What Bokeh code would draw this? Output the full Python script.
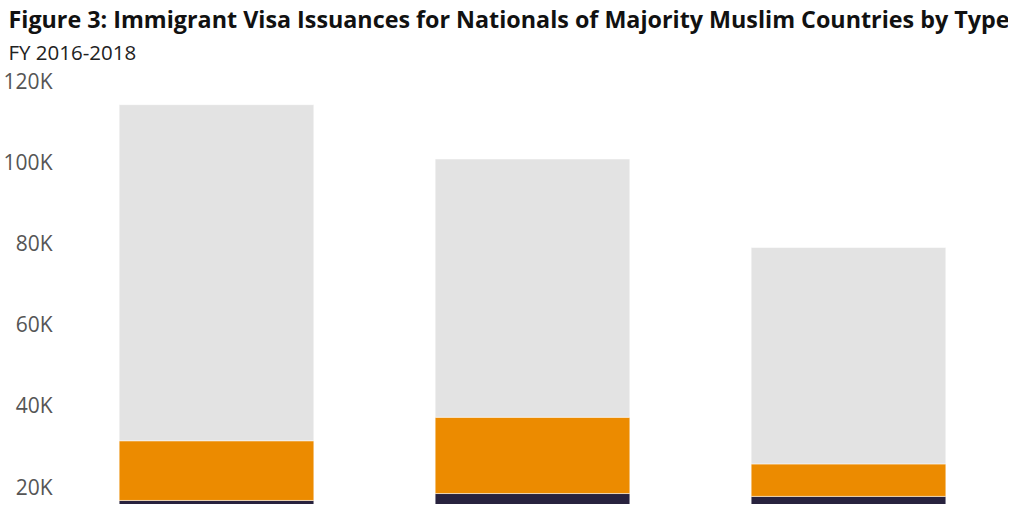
from bokeh.plotting import figure
from bokeh.models import Title, FixedTicker, Range1d, ColumnDataSource
from bokeh.embed import file_html
from bokeh.resources import INLINE

years = ["FY 2016", "FY 2017", "FY 2018"]
series = ["Employment-Based", "Family-Sponsored", "Immediate Relatives"]
employment = [16600, 18300, 17600]
family = [14700, 18800, 8000]
immediate = [82800, 63600, 53300]
colors = ["#28223e", "#ec8b00", "#e3e3e3"]
tick_values = [20000, 40000, 60000, 80000, 100000, 120000]
tick_labels = ["20K", "40K", "60K", "80K", "100K", "120K"]

source = ColumnDataSource(data=dict(year=years, **{
    series[0]: employment, series[1]: family, series[2]: immediate}))

p = figure(x_range=years, width=1008, height=504, output_backend="svg",
           toolbar_location=None, title=None, x_axis_location=None,
           min_border_left=0, min_border_right=2, min_border_top=0, min_border_bottom=0)
p.y_range = Range1d(15600, 123500)
p.x_range.range_padding = 0

p.vbar_stack(series, x="year", width=0.616, color=colors, source=source,
             line_color="white", line_width=0.5)

p.add_layout(Title(text="FY 2016-2018", text_font="Open Sans", text_font_size="20.5px",
                   text_font_style="normal", text_color="#222222", offset=-50,
                   standoff=2), "above")
p.add_layout(Title(text="Figure 3: Immigrant Visa Issuances for Nationals of Majority Muslim Countries by Type",
                   text_font="Open Sans", text_font_size="23.3px", text_font_style="bold",
                   text_color="#111111", offset=-50, standoff=0), "above")

ya = p.yaxis[0]
ya.ticker = FixedTicker(ticks=tick_values)
ya.major_label_overrides = {v: l for v, l in zip(tick_values, tick_labels)}
ya.major_label_text_font = "Open Sans"
ya.major_label_text_font_size = "21px"
ya.major_label_text_color = "#555555"
ya.major_label_text_align = "left"
ya.major_label_standoff = 0
ya.axis_line_color = None
ya.major_tick_line_color = None
ya.minor_tick_line_color = None

p.xgrid.grid_line_color = None
p.ygrid.grid_line_color = None
p.outline_line_color = None

open("out.html", "w").write(file_html(p, INLINE))
